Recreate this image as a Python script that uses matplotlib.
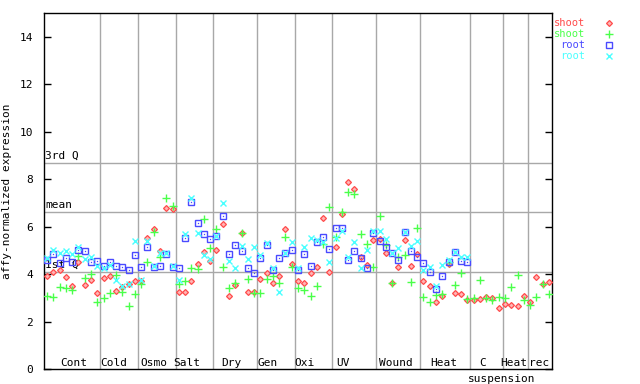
import matplotlib
matplotlib.use('Agg')
import matplotlib.pyplot as plt
import numpy as np

nan = np.nan

groups = ['Cont', 'Cold', 'Osmo', 'Salt', 'Dry', 'Gen', 'Oxi', 'UV', 'Wound', 'Heat', 'C', 'Heat', 'rec']
group_label_x = [4.3, 10.7, 17.0, 22.3, 29.3, 35.2, 41.0, 47.2, 55.6, 63.2, 69.5, 74.4, 78.5]
group_bounds = [8.5, 14.5, 20.5, 26.5, 33.5, 39.5, 45.5, 52.5, 59.5, 67.5, 72.7, 76.6]

stat_names = ['3rd Q', 'mean', '1st Q']
stat_values = [8.69, 6.62, 4.09]

shoot_1 = [3.92, 4.07, 4.17, 3.86, 3.50, 4.51, 3.53, 3.75, 3.19,
           3.82, 3.92, 3.29, 3.47, 3.58, 3.71,
           3.71, 5.53, 5.90, 4.97, 6.77, 6.73,
           3.23, 3.23, 3.71, 4.41, 4.92, 4.55,
           5.00, 6.10, 3.06, 3.54, 5.72, 3.26, 3.26,
           3.78, 4.06, 3.64, 3.92, 5.89, 4.42,
           3.72, 3.61, 4.03, 4.29, 6.35, 4.07,
           5.15, 6.53, 7.89, 7.59, 4.73, 4.38, 5.44,
           5.48, 4.87, 3.64, 4.31, 5.42, 4.34, 4.83,
           3.70, 3.49, 2.82, 3.06, 4.41, 3.19, 3.15, 2.89,
           2.89, 2.94, 3.02, 2.98, 2.56, 2.73, 2.68, 2.64, 3.06, 2.81, 3.86, 3.57, 3.65]
shoot_2 = [3.09, 3.02, 3.44, 3.40, 3.33, 4.76, 3.83, 3.99, 2.81,
           2.98, 3.19, 3.96, 3.23, 2.65, 3.15,
           3.57, 4.49, 5.76, 4.73, 7.19, 6.87,
           3.57, 3.71, 4.24, 4.20, 6.31, 5.11,
           5.90, 4.31, 3.40, 3.61, 5.75, 3.78, 3.22,
           3.19, 3.78, 3.92, 3.64, 5.55, 4.29,
           3.40, 3.33, 3.08, 3.51, 5.25, 6.81,
           5.58, 6.63, 7.45, 7.36, 5.68, 5.25, 4.29,
           6.45, 5.22, 3.64, 4.71, 4.80, 3.68, 5.93,
           3.02, 2.81, 3.11, 3.15, 4.50, 3.53, 4.03, 2.94,
           2.98, 3.74, 2.98, 2.89, 3.02, 2.98, 3.44, 3.95, 2.89, 2.68, 3.02, 3.57, 3.15]
root_1 = [4.59, 4.83, 4.45, 4.66, 4.52, 5.01, 4.97, 4.49, 4.54,
          4.35, 4.49, 4.34, 4.29, 4.17, 4.80,
          4.29, 5.13, 4.29, 4.35, 4.85, 4.31,
          4.27, 5.50, 7.03, 6.14, 5.68, 5.47,
          5.60, 6.43, 4.83, 5.21, 4.97, 4.24, 4.03,
          4.66, 5.22, 4.17, 4.66, 4.90, 5.01,
          4.17, 4.83, 4.34, 5.35, 5.58, 5.04,
          5.93, 5.93, 4.59, 4.97, 4.66, 4.27, 5.72,
          5.41, 5.13, 4.87, 4.59, 5.76, 4.97, 4.71,
          4.45, 4.07, 3.36, 3.91, 4.50, 4.93, 4.54, 4.50,
          nan, nan, nan, nan, nan, nan, nan, nan, nan, nan, nan, nan, nan]
root_2 = [4.66, 5.01, 4.90, 4.97, 4.83, 5.13, 4.64, 4.73, 4.34,
          4.27, 4.38, 3.75, 3.51, 3.58, 5.41,
          3.75, 5.41, 4.34, 4.87, 4.87, 4.34,
          3.75, 5.68, 7.21, 5.72, 4.80, 4.62,
          5.60, 6.98, 4.55, 4.24, 5.18, 4.64, 5.13,
          4.80, 5.30, 4.27, 3.23, 4.90, 5.34,
          4.24, 5.13, 5.51, 5.44, 5.37, 4.49,
          5.51, 5.83, 4.73, 5.34, 4.24, 5.01, 5.82,
          5.82, 5.47, 4.87, 5.09, 5.79, 5.18, 5.39,
          4.17, 4.29, 3.49, 4.37, 4.58, 4.93, 4.71, 4.71,
          nan, nan, nan, nan, nan, nan, nan, nan, nan, nan, nan, nan, nan]

mono = 'DejaVu Sans Mono'
fs = 8
red = '#ff4a4a'
green = '#4aff4a'
blue = '#4a4aff'
cyan = '#4affff'
grid_c = '#a8a8a8'

x = np.arange(len(shoot_1))

fig = plt.figure(figsize=(6.4, 3.84), dpi=100)
ax = fig.add_axes([44 / 640, 15 / 384, 508 / 640, 356 / 384])

for b in group_bounds:
    ax.axvline(b, color=grid_c, lw=1, zorder=1)
for name, v in zip(stat_names, stat_values):
    ax.axhline(v, color=grid_c, lw=1, zorder=1)
    ax.text(-0.3, v + 0.08, name, family=mono, fontsize=fs, ha='left', va='bottom')

red_style = dict(ls='none', marker='D', ms=3.0, mfc='#ffb4b4', mec=red, mew=0.9)
green_style = dict(ls='none', marker='+', ms=5.5, color=green, mew=1.0)
blue_style = dict(ls='none', marker='s', ms=4.2, mfc='none', mec=blue, mew=1.0)
cyan_style = dict(ls='none', marker='x', ms=4.0, color=cyan, mew=1.0)

ax.plot(x, shoot_1, zorder=3, **red_style)
ax.plot(x, shoot_2, zorder=3, **green_style)
ax.plot(x, root_1, zorder=3, **blue_style)
ax.plot(x, root_1, ls='none', marker='s', ms=0.9, mfc=blue, mec=blue, mew=0, zorder=3)
ax.plot(x, root_2, zorder=3, **cyan_style)

for name, gx in zip(groups, group_label_x):
    ax.text(gx, 0.05, name, family=mono, fontsize=fs, ha='center', va='bottom')
ax.text(72.5, -0.2, 'suspension', family=mono, fontsize=fs, ha='center', va='top', clip_on=False)

# legend drawn by hand, outside the axes on the right
leg_names = ['shoot', 'shoot', 'root', 'root']
leg_colors = [red, green, blue, cyan]
leg_styles = [red_style, green_style, blue_style, cyan_style]
for i, (nm, c, st) in enumerate(zip(leg_names, leg_colors, leg_styles)):
    yy = 0.972 - i * 0.031
    ax.text(1.065, yy, nm, color=c, family=mono, fontsize=7.5, ha='right', va='center',
            transform=ax.transAxes)
    ax.plot([1.112], [yy], transform=ax.transAxes, clip_on=False, **st)

ax.set_xlim(-0.5, 80.5)
ax.set_ylim(0, 15)
ax.set_xticks([])
ax.set_yticks(np.arange(0, 15, 2))
ax.set_yticklabels([str(v) for v in range(0, 15, 2)], family=mono, fontsize=fs)
ax.tick_params(axis='y', direction='in', length=5, width=1, right=True, pad=8)
for s in ax.spines.values():
    s.set_linewidth(1)
ax.set_ylabel('affy-normalized expression', family=mono, fontsize=fs)
ax.yaxis.set_label_coords(-0.063, 0.5)

fig.savefig('out.png', dpi=100)
